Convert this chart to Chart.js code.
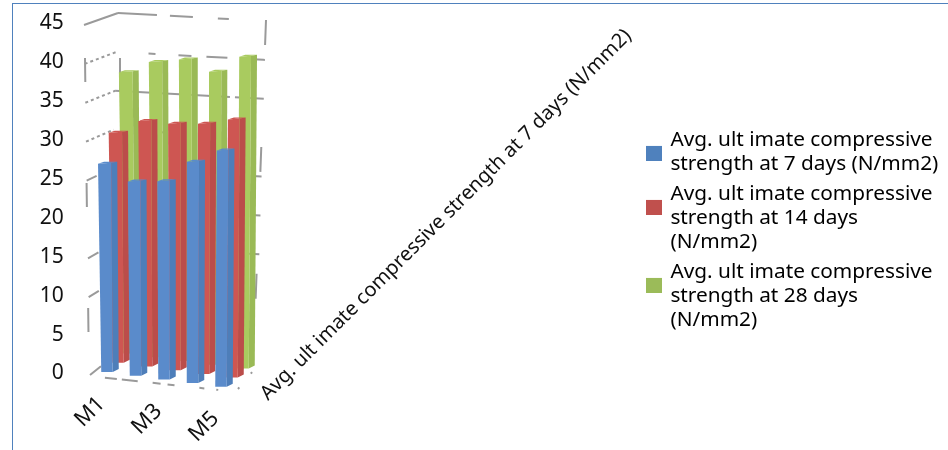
<!DOCTYPE html>
<html>
<head>
<meta charset="utf-8">
<script src="https://cdn.jsdelivr.net/npm/chart.js@4/dist/chart.umd.js"></script>
<style>
    html, body { margin: 0; padding: 0; background: #fff; }
    #frame { position: absolute; left: 12px; top: 3px; width: 936px; height: 447px; border-top: 1px solid #4f81bd; border-left: 1.5px solid #4f81bd; box-sizing: border-box; }
    #wrap { position: absolute; left: 0; top: 0; width: 948px; height: 450px; }
</style>
</head>
<body>
<div id="frame"></div>
<div id="wrap"><canvas id="myChart" width="948" height="450"></canvas></div>
<script>
const categories = ['M1', 'M2', 'M3', 'M4', 'M5'];
const seriesNames = [
    'Avg. ult imate compressive strength at 7 days (N/mm2)',
    'Avg. ult imate compressive strength at 14 days (N/mm2)',
    'Avg. ult imate compressive strength at 28 days (N/mm2)'
];
const legendLines = [
    ['Avg. ult imate compressive', 'strength at 7 days (N/mm2)'],
    ['Avg. ult imate compressive', 'strength at 14 days', '(N/mm2)'],
    ['Avg. ult imate compressive', 'strength at 28 days', '(N/mm2)']
];
const days7 = [26.9, 25.1, 25.6, 28.6, 30.5];
const days14 = [29.7, 31.7, 31.8, 32.3, 33.3];
const days28 = [36.3, 38.1, 38.9, 37.8, 40.2];

const frontColors = ['#5a8bcb', '#ce5652', '#a9cb5f'];
const sideColors = ['#4e7eb9', '#bb4d4a', '#9aba56'];
const legendColors = ['#4f81bd', '#c0504d', '#9bbb59'];
const FONT = '"Noto Sans", sans-serif';

// fake 3d: every bar is moved back by series and down by category
const DEPTH_X = 11, DEPTH_Y = 9.2, SLOPE_Y = 3.7;
const FRONT_W = 11.5, SIDE_W = 6;

// wall lines are broken up in the picture, dash per tick value
const sideDash = { 45: [], 40: [3, 3], 35: [3, 3], 30: [3, 3], 25: [11, 100], 20: [0, 100], 15: [12, 100], 10: [12, 100], 5: [0, 100], 0: [14, 100] };
const backDash = {
    45: [39, 13, 23, 25, 11, 200],
    40: [0, 32, 7, 23, 13, 15, 21, 26, 10],
    35: [115, 5, 30],
    30: [0, 47, 5, 200],
    25: [0, 140, 20],
    20: [0, 140, 20],
    15: [0, 140, 20],
    10: [0, 200],
    5: [0, 200],
    0: [0, 200]
};

class Bar3D extends Chart.BarElement {
    draw(ctx) {
        const cat = this.catIndex, ser = this.serIndex;
        const dx = ser * DEPTH_X;
        const dy = cat * SLOPE_Y - ser * DEPTH_Y;
        const bottom = this.base + dy, top = this.y + dy;
        const h = (bottom - top) / 220;
        const xl = this.x + dx - FRONT_W / 2, xr = xl + FRONT_W, xs = xr + SIDE_W;
        const leanL = ((cat - 2) * 1.2 - 1) * h, leanR = (cat - 2) * 0.8 * h;

        ctx.save();
        ctx.fillStyle = sideColors[ser];
        ctx.beginPath();
        ctx.moveTo(xr, bottom);
        ctx.lineTo(xs, bottom - 3);
        ctx.lineTo(xs + leanR, top - 1);
        ctx.lineTo(xr + leanR, top);
        ctx.closePath();
        ctx.fill();

        ctx.fillStyle = this.options.backgroundColor;
        ctx.beginPath();
        ctx.moveTo(xl, bottom);
        ctx.lineTo(xr, bottom);
        ctx.lineTo(xr + leanR, top);
        ctx.lineTo(xl + leanL, top + 1);
        ctx.closePath();
        ctx.fill();

        // thin lid
        ctx.beginPath();
        ctx.moveTo(xl + leanL, top + 1);
        ctx.lineTo(xr + leanR, top);
        ctx.lineTo(xs + leanR, top - 1);
        ctx.lineTo(xl + leanL + 6, top - 1);
        ctx.closePath();
        ctx.fill();
        ctx.restore();
    }
}
Bar3D.id = 'bar3d';
Bar3D.defaults = Chart.BarElement.defaults;
Bar3D.defaultRoutes = Chart.BarElement.defaultRoutes;

class Bar3DController extends Chart.BarController {
    updateElements(bars, start, count, mode) {
        super.updateElements(bars, start, count, mode);
        for (let i = start; i < start + count; i++) {
            bars[i].catIndex = i;
            bars[i].serIndex = this.index;
        }
    }
}
Bar3DController.id = 'bar3d';
Bar3DController.defaults = Object.assign({}, Chart.BarController.defaults, { dataElementType: 'bar3d' });
Bar3DController.overrides = Chart.BarController.overrides;
Chart.register(Bar3D, Bar3DController);

function strokeLine(ctx, pts, dash) {
    ctx.setLineDash(dash);
    ctx.beginPath();
    pts.forEach((p, i) => i ? ctx.lineTo(p[0], p[1]) : ctx.moveTo(p[0], p[1]));
    ctx.stroke();
}

// legend swatch sits lower than the first text line, so use a tall marker
function legendMarker(color) {
    const c = document.createElement('canvas');
    c.width = 16;
    c.height = 42;
    const g = c.getContext('2d');
    g.fillStyle = color;
    g.fillRect(0, 27, 16, 15);
    return c;
}

const wallsPlugin = {
    id: 'walls',
    beforeDatasetsDraw(chart) {
        const ctx = chart.ctx, y = chart.scales.y;
        const max = y.max;
        ctx.save();
        ctx.strokeStyle = '#9a9a9a';
        ctx.lineWidth = 2;
        y.ticks.forEach((tick) => {
            const t = tick.value / max, py = y.getPixelForValue(tick.value);
            const left = [90 - 6 * t, py + 3], corner = [105 + 13 * t, py - 9], right = [256 + 10 * t, py - 1];
            strokeLine(ctx, [left, corner], sideDash[tick.value]);
            strokeLine(ctx, [corner, right], backDash[tick.value]);
        });
        // wall edges, broken like the picture
        const top = y.getPixelForValue(max), base = y.getPixelForValue(0);
        strokeLine(ctx, [[266, top - 2], [253, base - 2]], [25, 102]);
        strokeLine(ctx, [[85, top + 36], [89, base + 2]], [24, 101]);
        strokeLine(ctx, [[120, top + 36], [120, top + 70]], []);
        // floor
        strokeLine(ctx, [[89, base + 4], [238, base + 20]], [0, 16, 12, 5, 16, 15, 8, 7, 7, 25, 5, 12, 2, 200]);
        strokeLine(ctx, [[238, base + 17], [253, base - 1]], [2, 18]);
        ctx.restore();
    }
};

const layoutPlugin = {
    id: 'layoutFix',
    beforeLayout(chart) {
        // legend must not squeeze the narrow plot
        const legend = chart.legend;
        if (legend && !legend.fitPatched) {
            const fit = legend.fit;
            legend.fit = function () {
                fit.call(this);
                this.width = 948 - 235.25;
            };
            legend.fitPatched = true;
        }
    },
    afterLayout(chart) {
        const legend = chart.legend;
        legend.left = 642;
        legend.right = 948;
        legend.top = 123.5;
        legend.bottom = 450;
    },
    beforeDraw(chart) {
        // slide the rotated x labels along the sloped floor
        const items = chart.scales.x.getLabelItems(chart.chartArea);
        if (!items.shifted) {
            items.shifted = true;
            items.forEach((item) => {
                const cat = categories.indexOf(item.label);
                item.options.translation[0] -= 5.5;
                item.options.translation[1] += cat * SLOPE_Y;
            });
        }
        const yItems = chart.scales.y.getLabelItems(chart.chartArea);
        if (!yItems.shifted) {
            yItems.shifted = true;
            yItems.forEach((item) => { item.options.translation[1] += 1.5; });
        }
    },
    afterDraw(chart) {
        // depth axis name runs up to the right
        const ctx = chart.ctx;
        ctx.save();
        ctx.translate(268, 401);
        ctx.rotate(-Math.PI / 4);
        ctx.font = '20px ' + FONT;
        ctx.fillStyle = '#111';
        ctx.textBaseline = 'alphabetic';
        ctx.fillText(seriesNames[0], 0, 0);
        ctx.restore();
    }
};

new Chart(document.getElementById('myChart').getContext('2d'), {
    type: 'bar3d',
    data: {
        labels: categories,
        datasets: [
            { label: seriesNames[0], data: days7, backgroundColor: frontColors[0], grouped: false, barThickness: FRONT_W, clip: false },
            { label: seriesNames[1], data: days14, backgroundColor: frontColors[1], grouped: false, barThickness: FRONT_W, clip: false },
            { label: seriesNames[2], data: days28, backgroundColor: frontColors[2], grouped: false, barThickness: FRONT_W, clip: false }
        ]
    },
    options: {
        responsive: false,
        animation: false,
        layout: { padding: { top: 22, left: 0, right: 0, bottom: 0 } },
        plugins: {
            tooltip: { enabled: false },
            legend: {
                position: 'right',
                align: 'start',
                labels: {
                    usePointStyle: true,
                    pointStyleWidth: 12,
                    boxHeight: 15,
                    padding: 6,
                    color: '#111',
                    font: { family: FONT, size: 20.8, lineHeight: 1.154 },
                    generateLabels: () => legendLines.map((lines, i) => ({
                        text: lines,
                        pointStyle: legendMarker(legendColors[i]),
                        fillStyle: legendColors[i],
                        strokeStyle: legendColors[i],
                        lineWidth: 0,
                        datasetIndex: i
                    }))
                }
            }
        },
        scales: {
            x: {
                grid: { display: false },
                border: { display: false },
                afterFit: (scale) => { scale.height = 78; },
                ticks: {
                    autoSkip: true,
                    maxTicksLimit: 3,
                    minRotation: 45,
                    maxRotation: 45,
                    padding: 11,
                    color: '#111',
                    font: { family: FONT, size: 22 }
                }
            },
            y: {
                min: 0,
                max: 45,
                grid: { display: false },
                border: { display: false },
                afterFit: (scale) => {
                    scale.width = 92.75;
                    scale.paddingTop = 0;
                    scale.paddingBottom = 0;
                },
                ticks: {
                    stepSize: 5,
                    padding: 21,
                    color: '#111',
                    font: { family: FONT, size: 21 }
                }
            }
        }
    },
    plugins: [wallsPlugin, layoutPlugin]
});
</script>
</body>
</html>
